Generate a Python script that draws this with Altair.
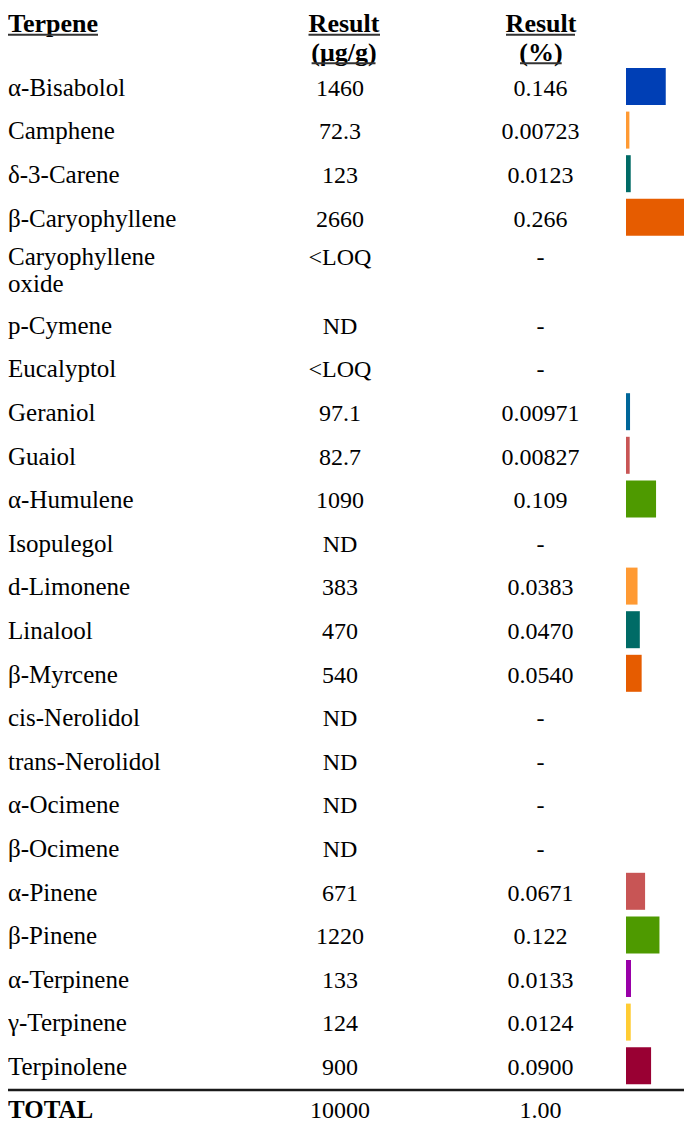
import altair as alt
import pandas as pd

# ---------------- data ----------------
terpenes = [
    "α-Bisabolol", "Camphene", "δ-3-Carene", "β-Caryophyllene",
    "Caryophyllene\noxide", "p-Cymene", "Eucalyptol", "Geraniol", "Guaiol",
    "α-Humulene", "Isopulegol", "d-Limonene", "Linalool", "β-Myrcene",
    "cis-Nerolidol", "trans-Nerolidol", "α-Ocimene", "β-Ocimene",
    "α-Pinene", "β-Pinene", "α-Terpinene", "γ-Terpinene", "Terpinolene",
]
result_ug = [
    "1460", "72.3", "123", "2660", "<LOQ", "ND", "<LOQ", "97.1", "82.7",
    "1090", "ND", "383", "470", "540", "ND", "ND", "ND", "ND",
    "671", "1220", "133", "124", "900",
]
result_pct_label = [
    "0.146", "0.00723", "0.0123", "0.266", "-", "-", "-", "0.00971", "0.00827",
    "0.109", "-", "0.0383", "0.0470", "0.0540", "-", "-", "-", "-",
    "0.0671", "0.122", "0.0133", "0.0124", "0.0900",
]
result_pct = [
    0.146, 0.00723, 0.0123, 0.266, None, None, None, 0.00971, 0.00827,
    0.109, None, 0.0383, 0.0470, 0.0540, None, None, None, None,
    0.0671, 0.122, 0.0133, 0.0124, 0.0900,
]
bar_names = [
    "α-Bisabolol", "Camphene", "δ-3-Carene", "β-Caryophyllene", "Geraniol",
    "Guaiol", "α-Humulene", "d-Limonene", "Linalool", "β-Myrcene",
    "α-Pinene", "β-Pinene", "α-Terpinene", "γ-Terpinene", "Terpinolene",
]
bar_colors = [
    "#003fb5", "#ff9a33", "#006b66", "#e65c00", "#006699",
    "#c85555", "#4e9a00", "#ff9a33", "#006b66", "#e65c00",
    "#c85555", "#4e9a00", "#9900a8", "#ffcc33", "#990033",
]
total_label = "TOTAL"
total_ug = "10000"
total_pct = "1.00"

# ---------------- layout ----------------
W, H = 676, 1116
FONT = "Liberation Serif"
NFS = 25      # names
FS = 24       # values
HFS = 26      # headers
HDR_BASE = 24
HDR_LH = 28.5
UL1 = HDR_BASE + 2.8
UL2 = UL1 + HDR_LH
FIRST_BASE = 87.7
ROW_STEP = 43.6
EXTRA_LINE = 25
MULTI_SHIFT = 5
TOTAL_STEP = 43.1
NAME_X = 0
UG_X = 332
PCT_X = 532.5
BAR_X0 = 618
BAR_MIN = 1.5
BAR_SCALE = 262

bases = []
for i, nm in enumerate(terpenes):
    n = nm.count("\n") + 1
    if i == 0:
        bases.append(FIRST_BASE)
    else:
        pn = terpenes[i - 1].count("\n") + 1
        bases.append(bases[-1] + ROW_STEP + EXTRA_LINE * (pn - 1) - MULTI_SHIFT * (n - 1))

df = pd.DataFrame({
    "name": terpenes,
    "ug": result_ug,
    "pctl": result_pct_label,
    "pct": result_pct,
    "base": bases,
})
df["top"] = df["base"] - 27.7
df["bot"] = df["base"] + 9.3

total_base = bases[-1] + TOTAL_STEP
tot = pd.DataFrame({"name": [total_label], "ug": [total_ug], "pctl": [total_pct], "base": [total_base]})

yscale = alt.Scale(domain=[0, H], range=[0, H])
xscale = alt.Scale(domain=[0, 1], range=[BAR_X0 + BAR_MIN, BAR_X0 + BAR_MIN + BAR_SCALE])

base = alt.Chart(df)

names = base.mark_text(align="left", baseline="alphabetic", font=FONT, fontSize=NFS,
                       lineBreak="\n", lineHeight=26.6, color="#000").encode(
    x=alt.value(NAME_X), y=alt.Y("base:Q", scale=yscale, axis=None), text="name:N")
ug = base.mark_text(align="center", baseline="alphabetic", font=FONT, fontSize=FS, color="#000").encode(
    x=alt.value(UG_X), y=alt.Y("base:Q", scale=yscale, axis=None), text="ug:N")
pct = base.mark_text(align="center", baseline="alphabetic", font=FONT, fontSize=FS, color="#000").encode(
    x=alt.value(PCT_X), y=alt.Y("base:Q", scale=yscale, axis=None), text="pctl:N")

bars = base.transform_filter("isValid(datum.pct)").mark_bar(clip=True).encode(
    x=alt.X("pct:Q", scale=xscale, axis=None),
    x2=alt.value(BAR_X0),
    y=alt.Y("top:Q", scale=yscale, axis=None),
    y2="bot:Q",
    color=alt.Color("name:N", scale=alt.Scale(domain=bar_names, range=bar_colors), legend=None),
)

tbase = alt.Chart(tot)
tname = tbase.mark_text(align="left", baseline="alphabetic", font=FONT, fontSize=NFS,
                        fontWeight="bold", color="#000").encode(
    x=alt.value(NAME_X), y=alt.Y("base:Q", scale=yscale, axis=None), text="name:N")
tug = tbase.mark_text(align="center", baseline="alphabetic", font=FONT, fontSize=FS, color="#000").encode(
    x=alt.value(UG_X), y=alt.Y("base:Q", scale=yscale, axis=None), text="ug:N")
tpct = tbase.mark_text(align="center", baseline="alphabetic", font=FONT, fontSize=FS, color="#000").encode(
    x=alt.value(PCT_X), y=alt.Y("base:Q", scale=yscale, axis=None), text="pctl:N")

total_rule = alt.Chart(tot).mark_rule(strokeWidth=2.5, color="#1a1a1a").encode(
    x=alt.value(0), x2=alt.value(W), y=alt.value(total_base - 28))

hdr_df = pd.DataFrame({"a": [0]})
hb = alt.Chart(hdr_df)
h1 = hb.mark_text(align="left", baseline="alphabetic", font=FONT, fontSize=HFS,
                  fontWeight="bold", color="#000").encode(
    x=alt.value(NAME_X), y=alt.value(HDR_BASE), text=alt.value("Terpene"))
h2 = hb.mark_text(align="center", baseline="alphabetic", font=FONT, fontSize=HFS,
                  fontWeight="bold", lineBreak="\n", lineHeight=HDR_LH, color="#000").encode(
    x=alt.value(336), y=alt.value(HDR_BASE), text=alt.value("Result\n(μg/g)"))
h3 = hb.mark_text(align="center", baseline="alphabetic", font=FONT, fontSize=HFS,
                  fontWeight="bold", lineBreak="\n", lineHeight=HDR_LH, color="#000").encode(
    x=alt.value(533), y=alt.value(HDR_BASE), text=alt.value("Result\n(%)"))

def uline(x1, x2, y):
    return hb.mark_rule(strokeWidth=2, color="#333").encode(
        x=alt.value(x1), x2=alt.value(x2), y=alt.value(y))

ulines = [
    uline(0, 90, UL1),
    uline(300.5, 372, UL1),
    uline(303.6, 367.5, UL2),
    uline(498, 567, UL1),
    uline(512, 553.7, UL2),
]

chart = alt.layer(
    bars, names, ug, pct, tname, tug, tpct, total_rule, h1, h2, h3, *ulines
).properties(
    width=W, height=H, padding=0, autosize=alt.AutoSizeParams(type="none"),
).configure_view(stroke=None).resolve_scale(color="independent")

chart.save("out.html", embed_options={"renderer": "svg", "actions": False})
